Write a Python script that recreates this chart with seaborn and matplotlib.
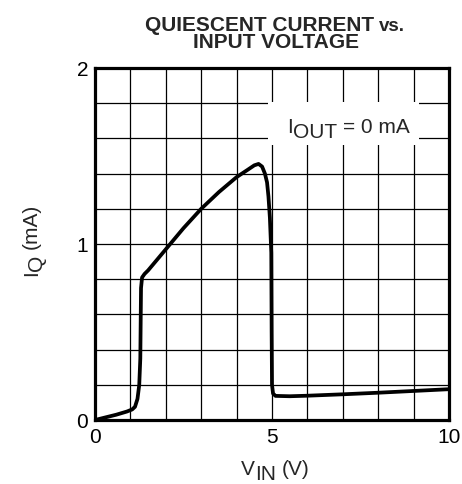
import numpy as np
import pandas as pd
import matplotlib
matplotlib.use("Agg")
import matplotlib.pyplot as plt
from matplotlib.patches import Rectangle
from matplotlib.transforms import offset_copy
import seaborn as sns

# Quiescent current vs. input voltage (IOUT = 0 mA)
v_in = [0.0, 0.3, 0.6, 0.9, 1.05, 1.13, 1.2, 1.25, 1.28, 1.29, 1.3, 1.33,
        1.4, 1.5, 2.0, 2.5, 3.0, 3.5, 4.0, 4.3, 4.5, 4.62, 4.72, 4.8,
        4.86, 4.9, 4.94, 4.96, 4.98, 4.99, 5.0, 5.03, 5.1, 5.5, 6.0, 7.0,
        8.0, 9.0, 10.0]
i_q = [0.0, 0.015, 0.03, 0.048, 0.06, 0.075, 0.12, 0.2, 0.35, 0.55, 0.75, 0.81,
       0.83, 0.85, 0.97, 1.09, 1.2, 1.295, 1.38, 1.42, 1.447, 1.455, 1.44, 1.40,
       1.35, 1.27, 1.15, 1.05, 0.95, 0.5, 0.2, 0.15, 0.137, 0.135, 0.138, 0.146,
       0.155, 0.165, 0.175]

x_ticks = list(range(0, 11))
x_labels = ["0", "", "", "", "", "5", "", "", "", "", "10"]
y_ticks = [round(0.2 * k, 1) for k in range(11)]
y_labels = ["0", "", "", "", "", "1", "", "", "", "", "2"]

FS = 15

sns.set_style("white")
plt.rcParams["font.family"] = ["Liberation Sans", "DejaVu Sans"]

fig = plt.figure(figsize=(4.62, 4.84), dpi=100)
ax = fig.add_axes([95 / 462, 1 - 420 / 484, 354 / 462, 352 / 484])
renderer = fig.canvas.get_renderer()


def text_width(s, size, weight="normal"):
    t = fig.text(0, 0, s, fontsize=size, fontweight=weight)
    w = t.get_window_extent(renderer).width
    t.remove()
    return w


def space_width(size, weight="normal"):
    return text_width("a a", size, weight) - text_width("aa", size, weight)


def rich_text(x, y, parts, transform, align="center", rotation=0, zorder=4):
    """Draw a run of text pieces; each piece is (text, size, weight, gap_before, drop_px)."""
    widths = []
    for s, size, weight, gap, drop in parts:
        g = space_width(size, weight) * gap
        widths.append((g, text_width(s, size, weight)))
    total = sum(g + w for g, w in widths)
    pos = {"center": -total / 2, "left": 0.0, "right": -total}[align]
    for (s, size, weight, gap, drop), (g, w) in zip(parts, widths):
        pos += g
        if rotation == 90:
            tr = offset_copy(transform, fig=fig, x=drop, y=pos, units="dots")
        else:
            tr = offset_copy(transform, fig=fig, x=pos, y=-drop, units="dots")
        fig.text(x, y, s, fontsize=size, fontweight=weight, ha="left",
                 va="baseline", rotation=rotation, rotation_mode="anchor",
                 transform=tr, zorder=zorder)
        pos += w


df = pd.DataFrame({"V": v_in, "I": i_q})
sns.lineplot(data=df, x="V", y="I", ax=ax, color="black", linewidth=2.7,
             estimator=None, sort=False, zorder=5)
ax.set_xlabel("")
ax.set_ylabel("")

ax.set_xlim(0, 10)
ax.set_ylim(0, 2)
ax.set_xticks(x_ticks)
ax.set_xticklabels(x_labels)
ax.set_yticks(y_ticks)
ax.set_yticklabels(y_labels)
ax.tick_params(axis="both", length=0, labelsize=FS, colors="black")
ax.tick_params(axis="x", pad=6)
ax.tick_params(axis="y", pad=5)
ax.grid(True, color="black", linewidth=0.9)
ax.set_axisbelow(True)
for sp in ax.spines.values():
    sp.set_visible(True)
    sp.set_color("black")
    sp.set_linewidth(2.3)
    sp.set_zorder(6)

# Condition label on a white patch over the grid
ax.add_patch(Rectangle((4.9, 1.5625), 4.25, 0.245, facecolor="white",
                       edgecolor="none", zorder=3))
rich_text(7.15, 1.63, [("I", FS, "normal", 0, 0),
                       ("OUT", FS, "normal", 0, 5),
                       ("= 0 mA", FS, "normal", 1, 0)],
          transform=ax.transData)

# Axis titles
rich_text(275 / 462, 1 - 475 / 484, [("V", FS, "normal", 0, 0),
                                     ("IN", FS, "normal", 0, 5),
                                     ("(V)", FS, "normal", 1, 0)],
          transform=fig.transFigure)
rich_text(37 / 462, 1 - 240 / 484, [("I", FS, "normal", 0, 0),
                                    ("Q", FS, "normal", 0, 5),
                                    ("(mA)", FS, "normal", 1, 0)],
          transform=fig.transFigure, rotation=90)

# Chart title
rich_text(145 / 462, 1 - 31 / 484, [("QUIESCENT CURRENT", FS, "bold", 0, 0),
                                    ("vs.", 13.5, "bold", 1, 0)],
          transform=fig.transFigure, align="left")
fig.text(276 / 462, 1 - 48.5 / 484, "INPUT VOLTAGE", ha="center",
         va="baseline", fontsize=FS, fontweight="bold")

fig.savefig("out.png", dpi=100, facecolor="white")
